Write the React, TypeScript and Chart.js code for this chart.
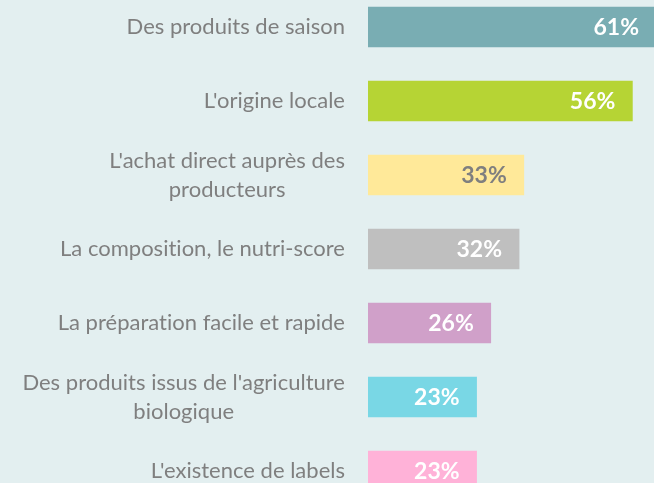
import React, { useEffect, useRef } from "react";
import { Chart, registerables } from "chart.js";

Chart.register(...registerables);

const categories: (string | string[])[] = [
  "Des produits de saison",
  "L'origine locale",
  ["L'achat direct auprès des", "producteurs"],
  "La composition, le nutri-score",
  "La préparation facile et rapide",
  ["Des produits issus de l'agriculture", "biologique"],
  "L'existence de labels",
];
const values = [61, 56, 33, 32, 26, 23, 23];
const barColors = ["#79adb3", "#b6d434", "#ffe999", "#bfbfbf", "#d0a0c9", "#79d7e5", "#ffb2d8"];
const valueColors = ["#ffffff", "#ffffff", "#7f7f7f", "#ffffff", "#ffffff", "#ffffff", "#ffffff"];

const BG = "#e3eff0";
const FONT = "Lato";
const CAT_SIZE = 22;
const VAL_SIZE = 23;
const LABEL_RIGHT = 345;
const LINE_H = 29;

const labelPlugin = {
  id: "customLabels",
  afterDatasetsDraw(chart: any) {
    const ctx = chart.ctx as CanvasRenderingContext2D;
    const yScale = chart.scales.y;
    const meta = chart.getDatasetMeta(0);
    ctx.save();
    ctx.font = `${CAT_SIZE}px ${FONT}`;
    (ctx as any).letterSpacing = "0.01px";
    ctx.fillStyle = "#7f7f7f";
    ctx.textAlign = "center";
    ctx.textBaseline = "middle";
    categories.forEach((lab, i) => {
      const lines = Array.isArray(lab) ? lab : [lab];
      const y = yScale.getPixelForValue(i);
      const w = Math.max(...lines.map((l) => ctx.measureText(l).width));
      const cx = LABEL_RIGHT - w / 2;
      lines.forEach((l, j) => {
        ctx.fillText(l, cx, y + (j - (lines.length - 1) / 2) * LINE_H);
      });
    });
    ctx.font = `bold ${VAL_SIZE}px ${FONT}`;
    ctx.textAlign = "right";
    meta.data.forEach((bar: any, i: number) => {
      ctx.fillStyle = valueColors[i];
      ctx.fillText(values[i] + "%", bar.x - 17, bar.y + 1);
    });
    ctx.restore();
  },
};

export default function App() {
  const ref = useRef<HTMLCanvasElement>(null);
  useEffect(() => {
    if (!ref.current) return;
    const chart = new Chart(ref.current, {
      type: "bar",
      data: {
        labels: categories.map((c) => (Array.isArray(c) ? c.join(" ") : c)),
        datasets: [
          {
            data: values,
            backgroundColor: barColors,
            barThickness: 40,
            borderWidth: 0,
          },
        ],
      },
      options: {
        indexAxis: "y",
        animation: false,
        responsive: false,
        devicePixelRatio: 1,
        layout: { padding: { left: 368, right: 0, top: 0, bottom: 0 } },
        plugins: { legend: { display: false }, tooltip: { enabled: false } },
        scales: {
          x: { display: false, min: 0, max: 61 },
          y: { display: false },
        },
      },
      plugins: [labelPlugin],
    });
    return () => chart.destroy();
  }, []);
  return (
    <div
      style={{
        position: "absolute",
        top: 0,
        left: 0,
        width: 654,
        height: 483,
        overflow: "hidden",
        background: BG,
      }}
    >
      <canvas
        ref={ref}
        width={656}
        height={518}
        style={{ position: "absolute", top: -10, left: 0, width: 656, height: 518 }}
      />
    </div>
  );
}
